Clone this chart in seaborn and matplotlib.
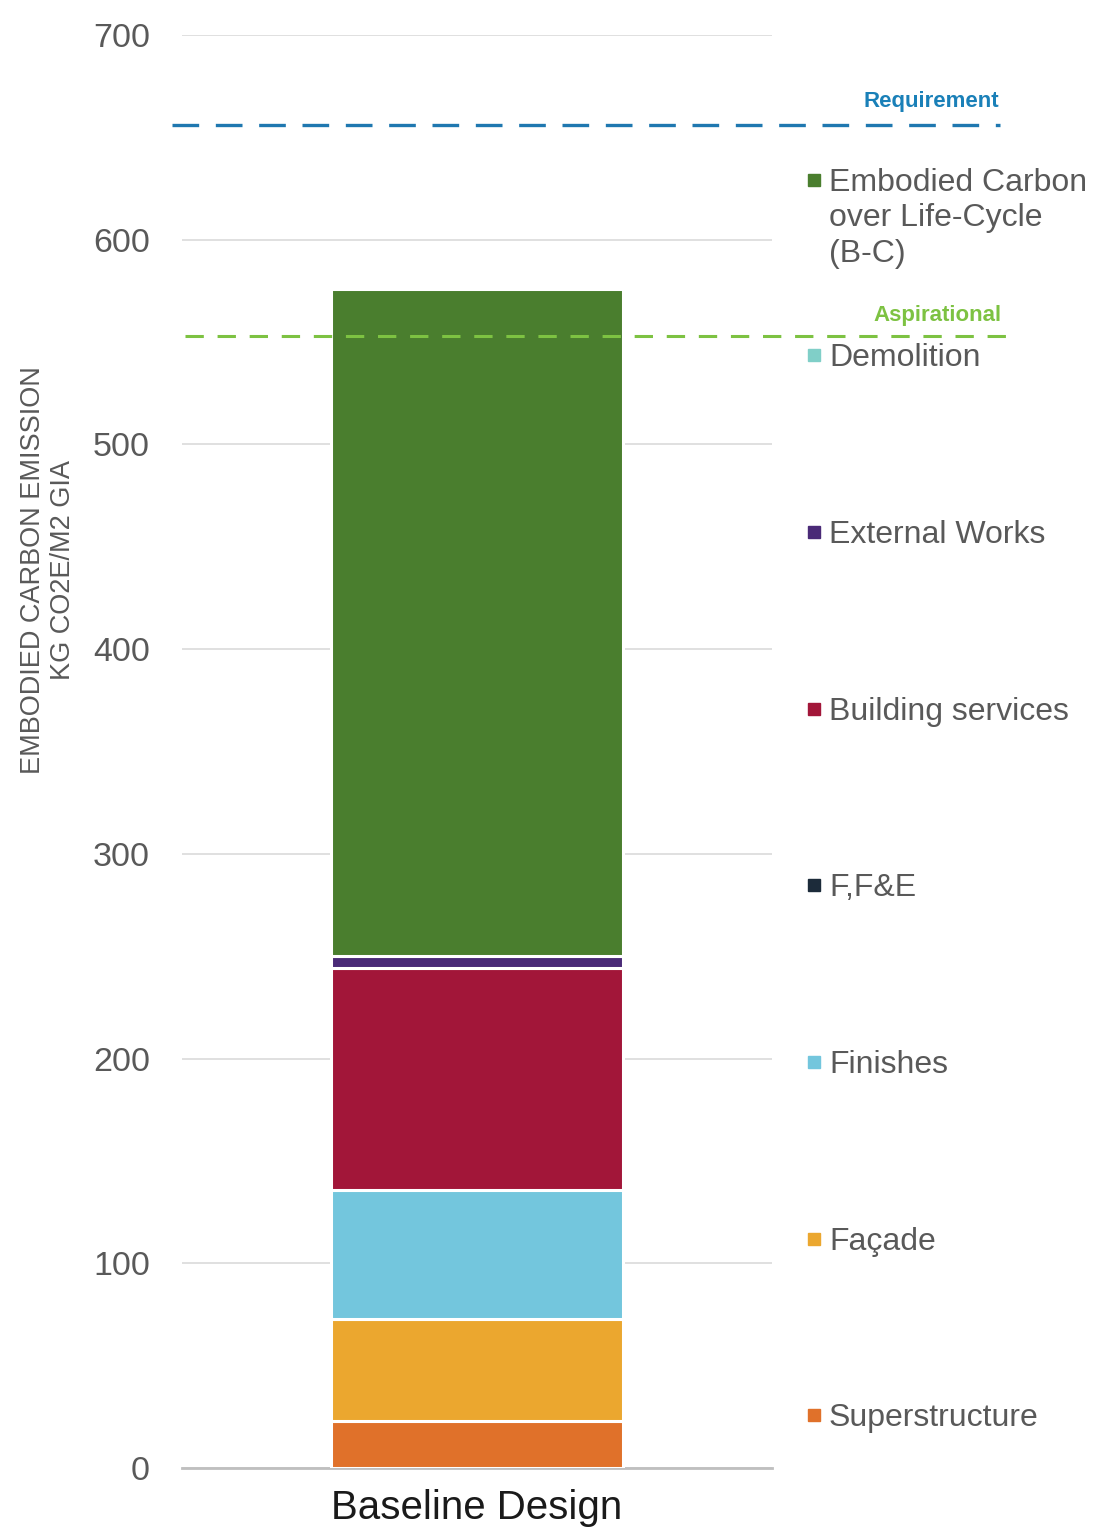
import matplotlib
matplotlib.use("Agg")
import matplotlib.pyplot as plt
import matplotlib.transforms as mtransforms
from matplotlib.patches import Rectangle
import seaborn as sns

# data (bottom to top of the stack)
categories = ["Baseline Design"]
segments = ["Superstructure", "Façade", "Finishes", "F,F&E", "Building services",
            "External Works", "Demolition", "Embodied Carbon\nover Life-Cycle\n(B-C)"]
values = [23, 50, 63, 0, 108, 6, 0, 326]
colors = ["#E0712A", "#EBA72F", "#73C6DD", "#1C2B3A", "#A21639",
          "#4A2A77", "#80CFC8", "#4A7E2E"]
requirement = 656
aspirational = 553
y_ticks = [0, 100, 200, 300, 400, 500, 600, 700]

sns.set_theme(style="white")
plt.rcParams['font.family'] = ['Liberation Sans', 'DejaVu Sans']
text_gray = "#595959"

fig = plt.figure(figsize=(11.13, 15.4), dpi=100)
ax = fig.add_axes([182 / 1113, 1 - 1468 / 1540, 590 / 1113, (1468 - 35) / 1540])

bottom = 0
for seg, val, col in zip(segments, values, colors):
    if val > 0:
        sns.barplot(x=categories, y=[val], bottom=bottom, color=col, width=0.495,
                    saturation=1, edgecolor="white", linewidth=2.2, ax=ax, zorder=3)
    bottom += val

ax.set_xlim(-0.5, 0.5)
ax.set_ylim(0, 700)
ax.set_yticks(y_ticks)
ax.set_yticklabels([str(t) for t in y_ticks], fontsize=24.5, color=text_gray)
ax.tick_params(axis="y", length=0, pad=23)
ax.tick_params(axis="x", length=0, pad=15, labelsize=29, labelcolor="#1a1a1a")
ax.grid(axis="y", color="#DDDDDD", linewidth=1.3, zorder=0)
ax.set_axisbelow(True)
for side in ["top", "right", "left"]:
    ax.spines[side].set_visible(False)
ax.spines["bottom"].set_color("#BFBFBF")
ax.spines["bottom"].set_linewidth(2)
ax.set_xlabel("")
ax.set_ylabel("")

fig.text(48 / 1113, 1 - 570 / 1540, "EMBODIED CARBON EMISSION\nKG CO2E/M2 GIA",
         rotation=90, ha="center", va="center", multialignment="center",
         fontsize=19.5, color=text_gray, linespacing=1.2)

# target lines extending past the plot area
trans = mtransforms.blended_transform_factory(fig.transFigure, ax.transData)
ax.plot([172 / 1113, 1000 / 1113], [requirement, requirement], transform=trans,
        clip_on=False, color="#1F78B0", linewidth=2.4, dashes=(8, 5), zorder=5)
ax.plot([185 / 1113, 1012 / 1113], [aspirational, aspirational], transform=trans,
        clip_on=False, color="#7DC242", linewidth=2.2, dashes=(6, 4.5), zorder=5)
fig.text(931 / 1113, 1 - 101 / 1540, "Requirement", ha="center", va="center",
         fontsize=16, fontweight="bold", color="#1A80B8")
fig.text(937 / 1113, 1 - 315 / 1540, "Aspirational", ha="center", va="center",
         fontsize=16, fontweight="bold", color="#7DC242")

# legend, top entry first
legend_y = [180, 355, 532, 709, 885, 1062, 1239, 1415]
order = [7, 6, 5, 4, 3, 2, 1, 0]
for py, idx in zip(legend_y, order):
    fig.patches.append(Rectangle((808 / 1113, 1 - (py + 6) / 1540), 12 / 1113, 12 / 1540,
                                 transform=fig.transFigure, color=colors[idx]))
    fig.text(829 / 1113, 1 - (py - 12) / 1540, segments[idx], ha="left", va="top",
             fontsize=23, color=text_gray, linespacing=1.23)

fig.savefig("out.png", dpi=100)
